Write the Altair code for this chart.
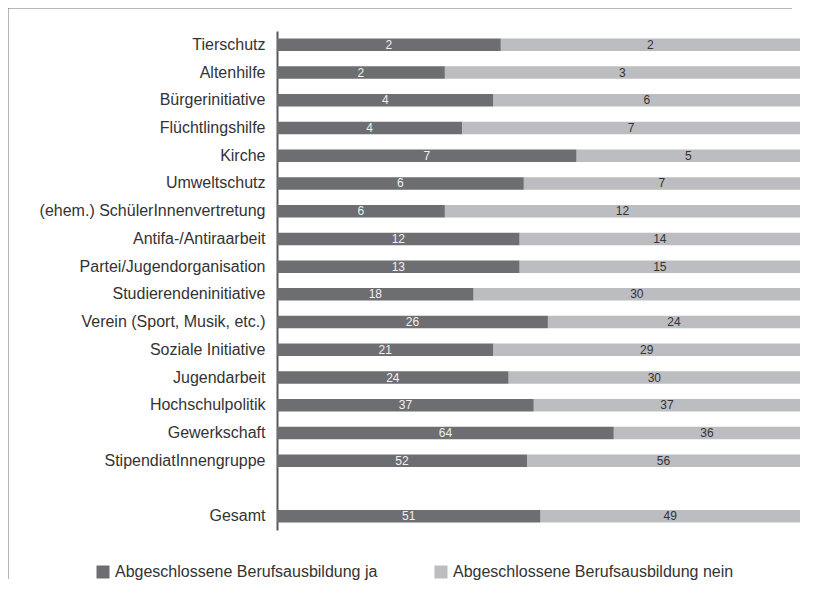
import altair as alt
import pandas as pd

categories = [
    "Tierschutz", "Altenhilfe", "Bürgerinitiative", "Flüchtlingshilfe", "Kirche",
    "Umweltschutz", "(ehem.) SchülerInnenvertretung", "Antifa-/Antiraarbeit",
    "Partei/Jugendorganisation", "Studierendeninitiative", "Verein (Sport, Musik, etc.)",
    "Soziale Initiative", "Jugendarbeit", "Hochschulpolitik", "Gewerkschaft",
    "StipendiatInnengruppe", "Gesamt",
]
ja_counts = [2, 2, 4, 4, 7, 6, 6, 12, 13, 18, 26, 21, 24, 37, 64, 52, 51]
nein_counts = [2, 3, 6, 7, 5, 7, 12, 14, 15, 30, 24, 29, 30, 37, 36, 56, 49]
# bar shares (%)
ja_share = [42.8, 32.1, 41.4, 35.4, 57.3, 47.2, 32.1, 46.4, 46.4, 37.6, 51.8, 41.4, 44.3, 49.1, 64.4, 47.8, 50.4]
nein_share = [57.2, 67.9, 58.6, 64.6, 42.7, 52.8, 67.9, 53.6, 53.6, 62.4, 48.2, 58.6, 55.7, 50.9, 35.6, 52.2, 49.6]
groups = ["Abgeschlossene Berufsausbildung ja", "Abgeschlossene Berufsausbildung nein"]
colors = ["#6d6e71", "#bcbdc0"]

rows = []
for c, jc, nc, js, ns in zip(categories, ja_counts, nein_counts, ja_share, nein_share):
    rows.append({"cat": c, "grp": groups[0], "ord": 0, "share": js, "n": jc})
    rows.append({"cat": c, "grp": groups[1], "ord": 1, "share": ns, "n": nc})
df = pd.DataFrame(rows)

y_domain = categories[:16] + [" "] + categories[16:]
FONT = "Liberation Sans"

yscale = alt.Scale(domain=y_domain, paddingInner=0.55, paddingOuter=0.275)
yaxis = alt.Axis(title=None, ticks=False, domainColor="#58595b", domainWidth=2,
                 labelFontSize=16, labelColor="#333333", labelFont=FONT,
                 labelPadding=12, labelLimit=400)
xscale = alt.Scale(domain=[0, 100], nice=False, zero=True)

base = alt.Chart(df).transform_stack(
    stack="share", groupby=["cat"], as_=["x0", "x1"], sort=[alt.SortField("ord")]
).transform_calculate(mid="(datum.x0 + datum.x1) / 2")

bars = base.mark_bar().encode(
    x=alt.X("x0:Q", scale=xscale, axis=None),
    x2="x1:Q",
    y=alt.Y("cat:N", scale=yscale, axis=yaxis, sort=y_domain),
    color=alt.Color("grp:N", scale=alt.Scale(domain=groups, range=colors),
                    legend=alt.Legend(orient="none", legendX=-182, legendY=533,
                                      direction="horizontal", title=None,
                                      symbolType="square", symbolSize=169,
                                      symbolStrokeWidth=0, symbolOpacity=1,
                                      labelFontSize=16, labelColor="#333333",
                                      labelFont=FONT, columnPadding=55,
                                      labelOffset=4, labelLimit=400)),
)

text = base.mark_text(fontSize=12, font=FONT).encode(
    x=alt.X("mid:Q", scale=xscale, axis=None),
    y=alt.Y("cat:N", scale=yscale, axis=yaxis, sort=y_domain),
    text="n:Q",
    color=alt.condition(alt.datum.ord == 0, alt.value("#f0f0f0"), alt.value("#333333")),
)

# page frame (left and top edges only), drawn as thin filled strips
frame_df = pd.DataFrame({"k": [0]})
frame_left = alt.Chart(frame_df).mark_rect(color="#6d6e71", strokeWidth=0).encode(
    x=alt.value(-270), x2=alt.value(-268.5), y=alt.value(-24), y2=alt.value(548))
frame_top = alt.Chart(frame_df).mark_rect(color="#6d6e71", strokeWidth=0).encode(
    x=alt.value(-270), x2=alt.value(515), y=alt.value(-24), y2=alt.value(-22.5))

chart = alt.layer(frame_left, frame_top, bars, text).properties(
    width=523, height=499,
    autosize=alt.AutoSizeParams(type="none"),
    padding={"left": 269, "top": 23, "right": 11, "bottom": 58},
    background="white",
).configure(font=FONT).configure_view(stroke=None, strokeWidth=0)

chart.save("out.html", embed_options={"renderer": "svg", "actions": False})
